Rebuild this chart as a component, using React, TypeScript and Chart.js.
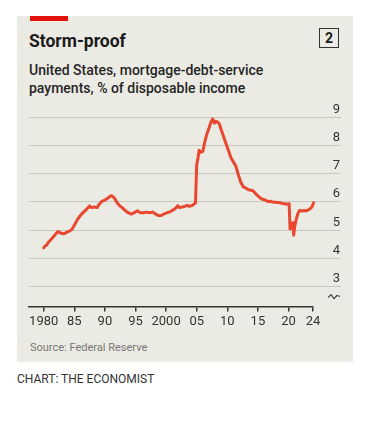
import React, { useEffect, useRef } from "react";
import { Chart, registerables } from "chart.js";

Chart.register(...registerables);

const years: number[] = [
  1980.0, 1980.25, 1980.5, 1980.75, 1981.0, 1981.5, 1982.0, 1982.3, 1982.75, 1983.25,
  1983.75, 1984.25, 1984.6, 1985.0, 1985.5, 1986.0, 1986.5, 1987.0, 1987.5, 1987.8,
  1988.25, 1988.75, 1989.0, 1989.5, 1990.0, 1990.5, 1991.0, 1991.3, 1991.6, 1992.0,
  1992.4, 1992.8, 1993.3, 1993.8, 1994.3, 1994.8, 1995.3, 1995.8, 1996.3, 1996.8,
  1997.3, 1997.8, 1998.3, 1998.7, 1999.2, 1999.7, 2000.2, 2000.6, 2001.0, 2001.5,
  2001.9, 2002.2, 2002.6, 2003.0, 2003.4, 2003.8, 2004.3, 2004.8, 2005.0, 2005.25,
  2005.4, 2005.7, 2006.0, 2006.3, 2006.6, 2007.0, 2007.3, 2007.6, 2007.9, 2008.1,
  2008.4, 2008.7, 2009.0, 2009.4, 2009.8, 2010.2, 2010.6, 2011.0, 2011.4, 2011.8,
  2012.2, 2012.6, 2013.0, 2013.4, 2013.8, 2014.2, 2014.6, 2015.0, 2015.4, 2015.8,
  2016.2, 2016.6, 2017.0, 2017.4, 2017.8, 2018.2, 2018.6, 2019.0, 2019.4, 2019.8,
  2020.1, 2020.25, 2020.5, 2020.7, 2020.85, 2021.0, 2021.25, 2021.5, 2021.8, 2022.2,
  2022.6, 2023.0, 2023.4, 2023.8, 2024.1,
];

const debtService: number[] = [
  4.35, 4.42, 4.45, 4.55, 4.6, 4.72, 4.85, 4.93, 4.88, 4.85,
  4.9, 4.95, 5.0, 5.15, 5.35, 5.5, 5.62, 5.72, 5.84, 5.78,
  5.8, 5.78, 5.88, 6.0, 6.05, 6.12, 6.2, 6.18, 6.1, 5.95,
  5.85, 5.78, 5.68, 5.6, 5.55, 5.6, 5.67, 5.6, 5.6, 5.62,
  5.6, 5.62, 5.55, 5.5, 5.5, 5.56, 5.6, 5.63, 5.68, 5.75,
  5.85, 5.78, 5.8, 5.82, 5.86, 5.83, 5.86, 5.95, 7.3, 7.6,
  7.82, 7.75, 7.78, 8.1, 8.35, 8.6, 8.8, 8.93, 8.78, 8.85,
  8.82, 8.75, 8.55, 8.3, 8.05, 7.8, 7.55, 7.4, 7.25, 6.95,
  6.68, 6.52, 6.48, 6.42, 6.4, 6.38, 6.28, 6.2, 6.12, 6.07,
  6.05, 6.0, 6.01, 5.98, 5.97, 5.96, 5.95, 5.93, 5.92, 5.9,
  5.92, 5.02, 5.2, 5.25, 4.8, 5.1, 5.35, 5.55, 5.68, 5.66,
  5.68, 5.67, 5.72, 5.8, 5.95,
];

const xTicks: number[] = [1980, 1985, 1990, 1995, 2000, 2005, 2010, 2015, 2020, 2024];
const xTickLabels: string[] = ["1980", "85", "90", "95", "2000", "05", "10", "15", "20", "24"];
const yTicks: number[] = [3, 4, 5, 6, 7, 8, 9];

const FONT = "Roboto, 'Liberation Sans', sans-serif";
const BG = "#ecebe3";
const RED = "#e9472f";

export default function App() {
  const canvasRef = useRef<HTMLCanvasElement | null>(null);

  useEffect(() => {
    const canvas = canvasRef.current;
    if (!canvas) return;

    const gridPlugin = {
      id: "customGrid",
      beforeDatasetsDraw(chart: any) {
        const ctx = chart.ctx;
        const y = chart.scales.y;
        ctx.save();
        ctx.strokeStyle = "#c9c8c0";
        ctx.lineWidth = 1;
        ctx.fillStyle = "#333333";
        ctx.font = `13px ${FONT}`;
        ctx.textAlign = "right";
        ctx.textBaseline = "alphabetic";
        for (const v of yTicks) {
          const py = Math.round(y.getPixelForValue(v)) + 0.5;
          ctx.beginPath();
          ctx.moveTo(12, py);
          ctx.lineTo(324, py);
          ctx.stroke();
          ctx.fillText(String(v), 323, py - 5);
        }
        // axis break symbol
        const by = y.getPixelForValue(2.62);
        ctx.strokeStyle = "#444";
        ctx.lineWidth = 1.2;
        ctx.beginPath();
        ctx.moveTo(311, by + 1);
        ctx.lineTo(314, by - 2);
        ctx.lineTo(317, by + 2);
        ctx.lineTo(320, by - 1);
        ctx.lineTo(323, by);
        ctx.stroke();
        ctx.restore();
      },
    };

    const chart = new Chart(canvas, {
      type: "line",
      data: {
        datasets: [
          {
            data: years.map((yr, i) => ({ x: yr, y: debtService[i] })),
            borderColor: RED,
            borderWidth: 3,
            pointRadius: 0,
            tension: 0,
            fill: false,
            clip: false as any,
            borderJoinStyle: "round",
            borderCapStyle: "round",
          },
        ],
      },
      options: {
        animation: false,
        responsive: false,
        maintainAspectRatio: false,
        layout: { padding: { left: 12, right: 40, top: 17, bottom: 7 } },
        plugins: { legend: { display: false }, tooltip: { enabled: false } },
        scales: {
          x: {
            type: "linear",
            min: 1977.6,
            max: 2024,
            afterBuildTicks: (scale: any) => {
              scale.ticks = xTicks.map((v) => ({ value: v }));
            },
            ticks: {
              autoSkip: false,
              maxRotation: 0,
              padding: 3,
              color: "#333333",
              font: { family: FONT, size: 13 },
              callback: (value: any) => {
                const idx = xTicks.indexOf(Number(value));
                return idx >= 0 ? xTickLabels[idx] : "";
              },
            },
            grid: {
              drawOnChartArea: false,
              drawTicks: true,
              tickLength: 5,
              color: "#333333",
              lineWidth: 1.5,
            },
            border: { display: true, color: "#333333", width: 1.5 },
          },
          y: {
            type: "linear",
            display: false,
            min: 2.27,
            max: 9,
          },
        },
      },
      plugins: [gridPlugin],
    });

    return () => chart.destroy();
  }, []);

  const abs = (o: React.CSSProperties): React.CSSProperties => ({ position: "absolute", ...o });

  return (
    <div>
      <div style={abs({ left: 17, top: 16, width: 336, height: 346, background: BG })} />
      <div style={abs({ left: 30, top: 16, width: 38, height: 5, background: "#e3120b" })} />
      <div
        style={abs({
          left: 29,
          top: 30,
          fontFamily: FONT,
          fontWeight: 700,
          fontSize: 17.5,
          lineHeight: "22px",
          color: "#1a1a1a",
          whiteSpace: "nowrap",
        })}
      >
        Storm-proof
      </div>
      <div
        style={abs({
          left: 319,
          top: 28,
          width: 18,
          height: 18,
          border: "1.5px solid #333",
          fontFamily: FONT,
          fontWeight: 700,
          fontSize: 14,
          lineHeight: "18px",
          textAlign: "center",
          color: "#1a1a1a",
        })}
      >
        2
      </div>
      <div
        style={abs({
          left: 29,
          top: 61,
          fontFamily: FONT,
          fontWeight: 500,
          fontSize: 14,
          lineHeight: "18px",
          color: "#262626",
          whiteSpace: "nowrap",
        })}
      >
        United States, mortgage-debt-service
        <br />
        payments, % of disposable income
      </div>
      <canvas
        ref={canvasRef}
        width={336}
        height={240}
        style={abs({ left: 17, top: 100, width: 336, height: 240 })}
      />
      <div
        style={abs({
          left: 30,
          top: 341,
          fontFamily: FONT,
          fontSize: 11,
          lineHeight: "14px",
          color: "#777777",
          whiteSpace: "nowrap",
        })}
      >
        Source: Federal Reserve
      </div>
      <div
        style={abs({
          left: 17,
          top: 372,
          fontFamily: FONT,
          fontSize: 12,
          lineHeight: "14px",
          color: "#333333",
          whiteSpace: "nowrap",
        })}
      >
        CHART: THE ECONOMIST
      </div>
    </div>
  );
}
